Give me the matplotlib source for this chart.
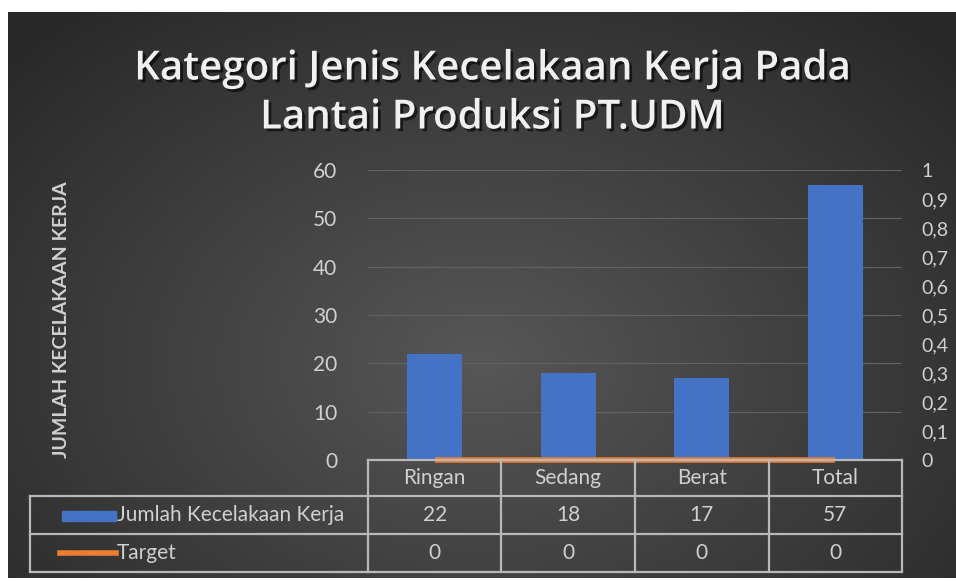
import numpy as np
import matplotlib.pyplot as plt
import matplotlib.patheffects as pe
from matplotlib.patches import Rectangle
from matplotlib.lines import Line2D
import matplotlib.transforms as mtransforms

categories = ["Ringan", "Sedang", "Berat", "Total"]
jumlah = [22, 18, 17, 57]
target = [0, 0, 0, 0]
series_names = ["Jumlah Kecelakaan Kerja", "Target"]
title = "Kategori Jenis Kecelakaan Kerja Pada\nLantai Produksi PT.UDM"
ylabel = "JUMLAH KECELAKAAN KERJA"

W, H = 956, 581
fig = plt.figure(figsize=(W / 100, H / 100), dpi=100)
fig.patch.set_facecolor("white")

def fx(px):
    return px / W

def fy(py):
    return 1 - py / H

# dark radial gradient background
bg = fig.add_axes([fx(8), fy(578), fx(948), (578 - 12) / H])
yy, xx = np.mgrid[0:1:300j, 0:1:500j]
r = np.sqrt(((xx - 0.5) / 0.75) ** 2 + ((yy - 0.62) / 0.9) ** 2)
g = np.clip(0.34 - 0.2 * r, 0.16, 0.34)
bg.imshow(np.dstack([g, g, g]), aspect="auto", extent=[0, 1, 0, 1], interpolation="bilinear")
bg.axis("off")

txtc = "#d0d0d0"
font = "Lato"
fs = 15

ax = fig.add_axes([fx(368), fy(460), fx(902 - 368), (460 - 170) / H])
ax.patch.set_alpha(0)
x = np.arange(len(categories))
ax.bar(x, jumlah, width=0.41, color="#4472c4", zorder=3)
ax.set_xlim(-0.5, len(categories) - 0.5)
ax.set_ylim(0, 60)
ax.set_yticks(range(0, 61, 10))
ax.grid(axis="y", color="#626262", linewidth=0.8, zorder=0)
for s in ax.spines.values():
    s.set_visible(False)
ax.tick_params(axis="y", length=0, pad=22, labelsize=fs, labelcolor=txtc)
ax.tick_params(axis="x", length=0, labelbottom=False)
for t in ax.get_yticklabels():
    t.set_fontfamily(font)

ax2 = ax.twinx()
ax2.plot(x, target, color="#ed7d31", linewidth=4, solid_capstyle="butt", zorder=4, clip_on=False)
ax2.set_ylim(0, 1)
ax2.set_yticks(np.arange(0, 1.01, 0.1))
ax2.set_yticklabels([("%.1f" % v).replace(".", ",").replace("0,0", "0").replace("1,0", "1") for v in np.arange(0, 1.01, 0.1)])
for s in ax2.spines.values():
    s.set_visible(False)
ax2.tick_params(axis="y", length=0, pad=14, labelsize=fs - 1, labelcolor=txtc)
for t in ax2.get_yticklabels():
    t.set_fontfamily(font)

# data table below the plot
trans = mtransforms.blended_transform_factory(ax.transData, fig.transFigure)
tf = fig.transFigure
lc = "#b8b8b8"
rows_y = [460, 496, 534, 572]
xl, xr = -0.5, len(categories) - 0.5
lw = 1.6
fig.add_artist(Line2D([xl, xr], [fy(rows_y[0])] * 2, transform=trans, color=lc, lw=lw))
fig.add_artist(Line2D([xl, xl], [fy(rows_y[0]), fy(rows_y[3])], transform=trans, color=lc, lw=lw))
for i in range(len(categories)):
    fig.add_artist(Line2D([i + 0.5, i + 0.5], [fy(rows_y[0]), fy(rows_y[3])], transform=trans, color=lc, lw=lw))
    fig.text(i, fy((rows_y[0] + rows_y[1]) / 2), categories[i], transform=trans,
             ha="center", va="center", color=txtc, fontsize=fs, family=font)
    fig.text(i, fy((rows_y[1] + rows_y[2]) / 2), str(jumlah[i]), transform=trans,
             ha="center", va="center", color=txtc, fontsize=fs, family=font)
    fig.text(i, fy((rows_y[2] + rows_y[3]) / 2), str(target[i]), transform=trans,
             ha="center", va="center", color=txtc, fontsize=fs, family=font)
for ry in rows_y[1:]:
    fig.add_artist(Line2D([fx(30), fx(902)], [fy(ry)] * 2, transform=tf, color=lc, lw=lw))
fig.add_artist(Line2D([fx(30), fx(30)], [fy(rows_y[1]), fy(rows_y[3])], transform=tf, color=lc, lw=lw))

# legend keys inside the table
fig.add_artist(Rectangle((fx(62), fy(521)), fx(54), 10 / H, transform=tf, color="#4472c4"))
fig.add_artist(Line2D([fx(60), fx(116)], [fy(553)] * 2, transform=tf, color="#ed7d31", lw=4))
fig.text(fx(117), fy(515), series_names[0], ha="left", va="center", color=txtc, fontsize=fs, family=font)
fig.text(fx(117), fy(553), series_names[1], ha="left", va="center", color=txtc, fontsize=fs, family=font)

fig.text(fx(62), fy(320), ylabel, rotation=90, ha="center", va="center", color=txtc,
         fontsize=14, fontweight="bold", family=font)

fig.text(fx(492), fy(94), title, ha="center", va="center", color="#f0f0f0", fontsize=29,
         fontweight="semibold", family="Open Sans", linespacing=1.3,
         path_effects=[pe.withSimplePatchShadow(offset=(2, -2), shadow_rgbFace="black", alpha=0.6)])

fig.savefig("out.png", dpi=100)
